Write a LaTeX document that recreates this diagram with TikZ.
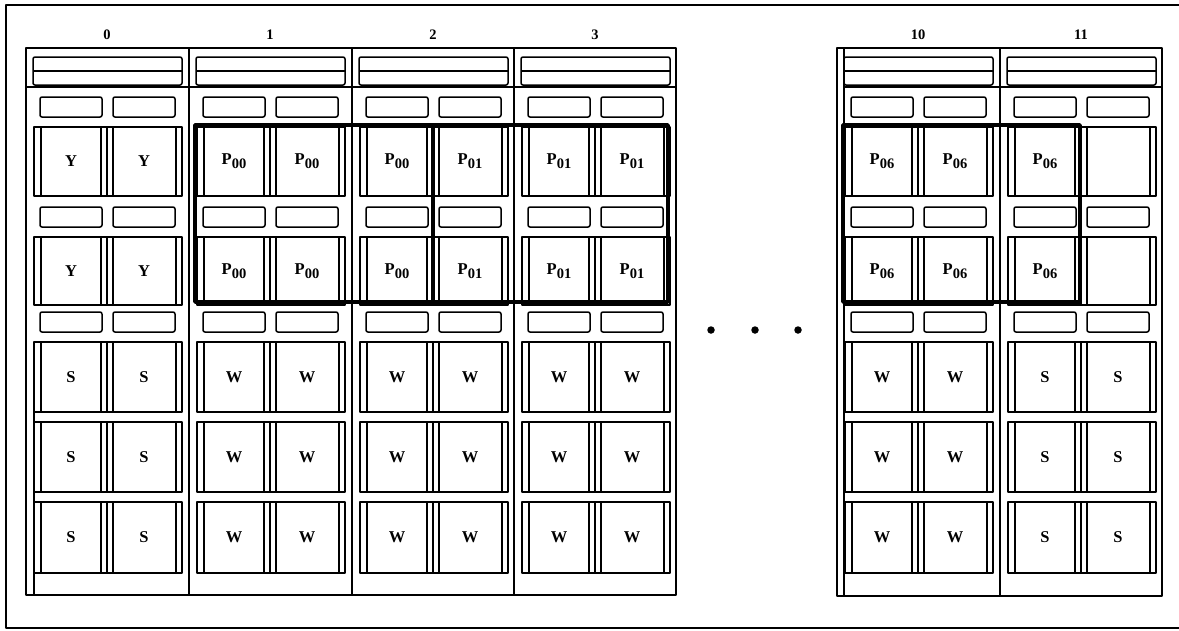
\documentclass[tikz,border=0pt]{standalone}
\usepackage{fontspec}
\setmainfont{Liberation Serif}
\newcommand\Psub[1]{P\raisebox{-4.5pt}{\fontsize{14.5}{14.5}\selectfont #1}}
\begin{document}
\begin{tikzpicture}[x=1pt,y=-1pt,line join=round,
  frame/.style={line width=2pt},
  grp/.style={line width=1.8pt},
  cellln/.style={line width=1.1pt},
  cellbox/.style={line width=1.6pt},
  slot/.style={line width=1.5pt,rounded corners=2pt},
  hi/.style={line width=3.8pt},
  lbl/.style={font=\bfseries\fontsize{16.5}{16.5}\selectfont,inner sep=0pt},
  num/.style={font=\bfseries\fontsize{14.5}{14.5}\selectfont,inner sep=0pt},
  dotst/.style={circle,fill=black,inner sep=0pt,minimum size=7.5pt}]
\useasboundingbox (0,0) rectangle (1179,630);
% outer frame
\draw[frame] (1179,5) -- (6,5) -- (6,628) -- (1179,628);
% groups
\draw[grp] (26,48) rectangle (676,595);
\draw[grp] (26,87) -- (676,87);
\foreach \x in {189,352,514} \draw[grp,line width=1.4pt] (\x,48) -- (\x,595);
\draw[cellbox] (34,342) -- (34,595);
\draw[grp] (837,48) rectangle (1162,596);
\draw[cellbox] (844,48) -- (844,596);
\draw[grp] (844,87) -- (1162,87);
\draw[grp,line width=1.4pt] (1000,48) -- (1000,596);
% columns
\foreach \L/\c/\a/\b/\s in {26/0/Y/Y/S, 189/1/\Psub{00}/\Psub{00}/W,
   352/2/\Psub{00}/\Psub{01}/W, 514/3/\Psub{01}/\Psub{01}/W,
   837/10/\Psub{06}/\Psub{06}/W, 1000/11/\Psub{06}//S}{
  \node[num] (n\c) at (\L+81,35) {\c};
  % header
  \draw[slot] (\L+7,57) rectangle (\L+156,85);
  \draw[cellln] (\L+7,71) -- (\L+156,71);
  % slots
  \foreach \t/\bb in {97/117,207/227,312/332}{
    \draw[slot] (\L+14,\t) rectangle (\L+76,\bb);
    \draw[slot] (\L+87,\t) rectangle (\L+149,\bb);
  }
  % big cells
  \foreach \t/\bb/\r in {127/196/1,237/305/2,342/412/3,422/492/4,502/573/5}{
    \draw[cellbox] (\L+8,\t) rectangle (\L+156,\bb);
    \foreach \v in {15,75,81,87,150} \draw[cellln] (\L+\v,\t) -- (\L+\v,\bb);
  }
  \node[lbl] (c\c-1l) at (\L+45,161) {\a};
  \node[lbl] (c\c-1r) at (\L+118,161) {\b};
  \node[lbl] (c\c-2l) at (\L+45,271) {\a};
  \node[lbl] (c\c-2r) at (\L+118,271) {\b};
  \foreach \t/\r in {377/3,457/4,537/5}{
    \node[lbl] (c\c-\r l) at (\L+45,\t) {\s};
    \node[lbl] (c\c-\r r) at (\L+118,\t) {\s};
  }
}
% highlighted regions
\draw[hi] (195,125) rectangle (668,302);
\draw[hi] (433,125) -- (433,302);
\draw[hi] (843,125) rectangle (1080,302);
% ellipsis
\node[dotst] (d1) at (711,330) {};
\node[dotst] (d2) at (755,330) {};
\node[dotst] (d3) at (798,330) {};
\end{tikzpicture}
\end{document}
